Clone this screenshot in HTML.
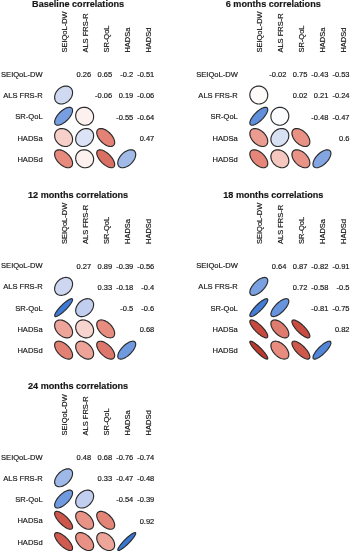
<!DOCTYPE html><html><head><meta charset="utf-8"><title>Correlations</title><style>html,body{margin:0;padding:0;background:#fff}svg{display:block}text{font-family:"Liberation Sans",Arial,sans-serif;fill:#161616;font-kerning:none;stroke:#161616;stroke-width:0.17px}</style></head><body>
<svg width="350" height="551" viewBox="0 0 350 551">
<rect width="350" height="551" fill="#fff"/>
<g transform="translate(0.00,0.00)">
<text x="78.1" y="7.10" font-size="9.1" font-weight="bold" stroke="none" text-anchor="middle">Baseline correlations</text>
<text x="42.6" y="76.83" font-size="7.55" text-anchor="end">SEIQoL-DW</text>
<text transform="translate(66.50,52.6) rotate(-90)" font-size="7.5">SEIQoL-DW</text>
<text x="42.6" y="98.08" font-size="7.55" text-anchor="end">ALS FRS-R</text>
<text transform="translate(87.55,52.6) rotate(-90)" font-size="7.5">ALS FRS-R</text>
<text x="42.6" y="119.33" font-size="7.55" text-anchor="end">SR-QoL</text>
<text transform="translate(108.60,52.6) rotate(-90)" font-size="7.5">SR-QoL</text>
<text x="42.6" y="140.58" font-size="7.55" text-anchor="end">HADSa</text>
<text transform="translate(129.65,52.6) rotate(-90)" font-size="7.5">HADSa</text>
<text x="42.6" y="161.83" font-size="7.55" text-anchor="end">HADSd</text>
<text transform="translate(150.70,52.6) rotate(-90)" font-size="7.5">HADSd</text>
<text x="91.15" y="77.16" font-size="7.5" text-anchor="end">0.26</text>
<polygon points="70.72,87.88 69.95,87.23 69.06,86.71 68.09,86.33 67.04,86.11 65.93,86.03 64.78,86.11 63.61,86.34 62.43,86.71 61.28,87.23 60.17,87.89 59.12,88.66 58.14,89.54 57.26,90.52 56.49,91.57 55.83,92.68 55.31,93.83 54.94,95.01 54.71,96.18 54.63,97.33 54.71,98.44 54.93,99.49 55.31,100.46 55.83,101.35 56.48,102.12 57.25,102.77 58.14,103.29 59.11,103.67 60.16,103.89 61.27,103.97 62.42,103.89 63.59,103.66 64.77,103.29 65.92,102.77 67.03,102.11 68.08,101.34 69.06,100.46 69.94,99.48 70.71,98.43 71.37,97.32 71.89,96.17 72.26,94.99 72.49,93.82 72.57,92.67 72.49,91.56 72.27,90.51 71.89,89.54 71.37,88.65" fill="#cfd9f2" stroke="#2a2a2a" stroke-width="1.15" stroke-linejoin="round"/>
<text x="112.20" y="77.16" font-size="7.5" text-anchor="end">0.65</text>
<polygon points="71.75,108.10 71.19,107.68 70.50,107.41 69.69,107.29 68.78,107.32 67.78,107.50 66.71,107.84 65.58,108.31 64.42,108.93 63.25,109.67 62.08,110.52 60.94,111.47 59.85,112.50 58.82,113.59 57.87,114.73 57.02,115.90 56.28,117.07 55.66,118.23 55.19,119.36 54.85,120.43 54.67,121.43 54.64,122.34 54.76,123.15 55.03,123.84 55.45,124.40 56.01,124.82 56.70,125.09 57.51,125.21 58.42,125.18 59.42,125.00 60.49,124.66 61.62,124.19 62.78,123.57 63.95,122.83 65.12,121.98 66.26,121.03 67.35,120.00 68.38,118.91 69.33,117.77 70.18,116.60 70.92,115.43 71.54,114.27 72.01,113.14 72.35,112.07 72.53,111.07 72.56,110.16 72.44,109.35 72.17,108.66" fill="#779ee0" stroke="#2a2a2a" stroke-width="1.15" stroke-linejoin="round"/>
<text x="133.25" y="77.16" font-size="7.5" text-anchor="end">-0.2</text>
<polygon points="69.27,131.83 68.32,130.97 67.28,130.22 66.18,129.60 65.04,129.11 63.87,128.77 62.70,128.58 61.54,128.53 60.42,128.65 59.35,128.91 58.36,129.32 57.45,129.87 56.65,130.55 55.97,131.35 55.42,132.26 55.01,133.25 54.75,134.32 54.63,135.44 54.68,136.60 54.87,137.77 55.21,138.94 55.70,140.08 56.32,141.18 57.07,142.22 57.93,143.17 58.88,144.03 59.92,144.78 61.02,145.40 62.16,145.89 63.33,146.23 64.50,146.42 65.66,146.47 66.78,146.35 67.85,146.09 68.84,145.68 69.75,145.13 70.55,144.45 71.23,143.65 71.78,142.74 72.19,141.75 72.45,140.68 72.57,139.56 72.52,138.40 72.33,137.23 71.99,136.06 71.50,134.92 70.88,133.82 70.13,132.78" fill="#f6d0c9" stroke="#2a2a2a" stroke-width="1.15" stroke-linejoin="round"/>
<text x="154.30" y="77.16" font-size="7.5" text-anchor="end">-0.51</text>
<polygon points="68.04,154.31 66.98,153.33 65.87,152.44 64.72,151.67 63.55,151.01 62.38,150.48 61.23,150.10 60.12,149.86 59.07,149.78 58.10,149.85 57.22,150.07 56.45,150.44 55.81,150.96 55.29,151.60 54.92,152.37 54.70,153.25 54.63,154.22 54.71,155.27 54.95,156.38 55.33,157.53 55.86,158.70 56.52,159.87 57.29,161.02 58.18,162.13 59.16,163.19 60.22,164.17 61.33,165.06 62.48,165.83 63.65,166.49 64.82,167.02 65.97,167.40 67.08,167.64 68.13,167.72 69.10,167.65 69.98,167.43 70.75,167.06 71.39,166.54 71.91,165.90 72.28,165.13 72.50,164.25 72.57,163.28 72.49,162.23 72.25,161.12 71.87,159.97 71.34,158.80 70.68,157.63 69.91,156.48 69.02,155.37" fill="#e78a7d" stroke="#2a2a2a" stroke-width="1.15" stroke-linejoin="round"/>
<text x="112.20" y="98.41" font-size="7.5" text-anchor="end">-0.06</text>
<polygon points="90.80,110.10 89.89,109.30 88.90,108.62 87.83,108.07 86.71,107.66 85.55,107.40 84.38,107.28 83.21,107.33 82.07,107.52 80.97,107.86 79.93,108.35 78.98,108.97 78.12,109.72 77.37,110.58 76.75,111.53 76.26,112.57 75.92,113.67 75.73,114.81 75.68,115.98 75.80,117.15 76.06,118.31 76.47,119.43 77.02,120.50 77.70,121.49 78.50,122.40 79.41,123.20 80.40,123.88 81.47,124.43 82.59,124.84 83.75,125.10 84.92,125.22 86.09,125.17 87.23,124.98 88.33,124.64 89.37,124.15 90.32,123.53 91.18,122.78 91.93,121.92 92.55,120.97 93.04,119.93 93.38,118.83 93.57,117.69 93.62,116.52 93.50,115.35 93.24,114.19 92.83,113.07 92.28,112.00 91.60,111.01" fill="#fcf1ef" stroke="#2a2a2a" stroke-width="1.15" stroke-linejoin="round"/>
<text x="133.25" y="98.41" font-size="7.5" text-anchor="end">0.19</text>
<polygon points="91.57,130.58 90.76,129.89 89.86,129.34 88.86,128.92 87.79,128.65 86.66,128.54 85.51,128.57 84.33,128.76 83.17,129.10 82.02,129.58 80.93,130.20 79.89,130.94 78.94,131.79 78.09,132.74 77.35,133.78 76.73,134.87 76.25,136.02 75.91,137.18 75.72,138.36 75.69,139.51 75.80,140.64 76.07,141.71 76.49,142.71 77.04,143.61 77.73,144.42 78.54,145.11 79.44,145.66 80.44,146.08 81.51,146.35 82.64,146.46 83.79,146.43 84.97,146.24 86.13,145.90 87.28,145.42 88.37,144.80 89.41,144.06 90.36,143.21 91.21,142.26 91.95,141.22 92.57,140.13 93.05,138.98 93.39,137.82 93.58,136.64 93.61,135.49 93.50,134.36 93.23,133.29 92.81,132.29 92.26,131.39" fill="#dce3f6" stroke="#2a2a2a" stroke-width="1.15" stroke-linejoin="round"/>
<text x="154.30" y="98.41" font-size="7.5" text-anchor="end">-0.06</text>
<polygon points="90.80,152.60 89.89,151.80 88.90,151.12 87.83,150.57 86.71,150.16 85.55,149.90 84.38,149.78 83.21,149.83 82.07,150.02 80.97,150.36 79.93,150.85 78.98,151.47 78.12,152.22 77.37,153.08 76.75,154.03 76.26,155.07 75.92,156.17 75.73,157.31 75.68,158.48 75.80,159.65 76.06,160.81 76.47,161.93 77.02,163.00 77.70,163.99 78.50,164.90 79.41,165.70 80.40,166.38 81.47,166.93 82.59,167.34 83.75,167.60 84.92,167.72 86.09,167.67 87.23,167.48 88.33,167.14 89.37,166.65 90.32,166.03 91.18,165.28 91.93,164.42 92.55,163.47 93.04,162.43 93.38,161.33 93.57,160.19 93.62,159.02 93.50,157.85 93.24,156.69 92.83,155.57 92.28,154.50 91.60,153.51" fill="#fcf1ef" stroke="#2a2a2a" stroke-width="1.15" stroke-linejoin="round"/>
<text x="133.25" y="119.66" font-size="7.5" text-anchor="end">-0.55</text>
<polygon points="109.95,133.25 108.89,132.25 107.77,131.35 106.61,130.55 105.44,129.87 104.27,129.32 103.12,128.91 102.03,128.64 100.99,128.53 100.03,128.58 99.17,128.77 98.43,129.12 97.80,129.60 97.32,130.23 96.97,130.97 96.78,131.83 96.73,132.79 96.84,133.83 97.11,134.92 97.52,136.07 98.07,137.24 98.75,138.41 99.55,139.57 100.45,140.69 101.45,141.75 102.51,142.75 103.63,143.65 104.79,144.45 105.96,145.13 107.13,145.68 108.28,146.09 109.37,146.36 110.41,146.47 111.37,146.42 112.23,146.23 112.97,145.88 113.60,145.40 114.08,144.77 114.43,144.03 114.62,143.17 114.67,142.21 114.56,141.17 114.29,140.08 113.88,138.93 113.33,137.76 112.65,136.59 111.85,135.43 110.95,134.31" fill="#e38275" stroke="#2a2a2a" stroke-width="1.15" stroke-linejoin="round"/>
<text x="154.30" y="119.66" font-size="7.5" text-anchor="end">-0.64</text>
<polygon points="109.51,154.94 108.41,153.92 107.27,152.97 106.11,152.13 104.93,151.39 103.77,150.79 102.65,150.32 101.57,149.99 100.57,149.81 99.65,149.79 98.84,149.92 98.14,150.20 97.58,150.63 97.15,151.19 96.87,151.89 96.74,152.70 96.76,153.62 96.94,154.62 97.27,155.70 97.74,156.82 98.34,157.98 99.08,159.16 99.92,160.32 100.87,161.46 101.89,162.56 102.99,163.58 104.13,164.53 105.29,165.37 106.47,166.11 107.63,166.71 108.75,167.18 109.83,167.51 110.83,167.69 111.75,167.71 112.56,167.58 113.26,167.30 113.82,166.87 114.25,166.31 114.53,165.61 114.66,164.80 114.64,163.88 114.46,162.88 114.13,161.80 113.66,160.68 113.06,159.52 112.32,158.34 111.48,157.18 110.53,156.04" fill="#da6f63" stroke="#2a2a2a" stroke-width="1.15" stroke-linejoin="round"/>
<text x="154.30" y="140.91" font-size="7.5" text-anchor="end">0.47</text>
<polygon points="134.44,151.06 133.77,150.52 132.98,150.13 132.09,149.88 131.10,149.78 130.04,149.84 128.92,150.05 127.77,150.41 126.60,150.91 125.43,151.54 124.28,152.30 123.18,153.17 122.13,154.13 121.17,155.18 120.30,156.28 119.54,157.43 118.91,158.60 118.41,159.77 118.05,160.92 117.84,162.04 117.78,163.10 117.88,164.09 118.13,164.98 118.52,165.77 119.06,166.44 119.73,166.98 120.52,167.37 121.41,167.62 122.40,167.72 123.46,167.66 124.58,167.45 125.73,167.09 126.90,166.59 128.07,165.96 129.22,165.20 130.32,164.33 131.37,163.37 132.33,162.32 133.20,161.22 133.96,160.07 134.59,158.90 135.09,157.73 135.45,156.58 135.66,155.46 135.72,154.40 135.62,153.41 135.37,152.52 134.98,151.73" fill="#a1bae8" stroke="#2a2a2a" stroke-width="1.15" stroke-linejoin="round"/>
</g>
<g transform="translate(195.20,0.00)">
<text x="78.1" y="7.10" font-size="9.1" font-weight="bold" stroke="none" text-anchor="middle">6 months correlations</text>
<text x="42.6" y="76.83" font-size="7.55" text-anchor="end">SEIQoL-DW</text>
<text transform="translate(66.50,52.6) rotate(-90)" font-size="7.5">SEIQoL-DW</text>
<text x="42.6" y="98.08" font-size="7.55" text-anchor="end">ALS FRS-R</text>
<text transform="translate(87.55,52.6) rotate(-90)" font-size="7.5">ALS FRS-R</text>
<text x="42.6" y="119.33" font-size="7.55" text-anchor="end">SR-QoL</text>
<text transform="translate(108.60,52.6) rotate(-90)" font-size="7.5">SR-QoL</text>
<text x="42.6" y="140.58" font-size="7.55" text-anchor="end">HADSa</text>
<text transform="translate(129.65,52.6) rotate(-90)" font-size="7.5">HADSa</text>
<text x="42.6" y="161.83" font-size="7.55" text-anchor="end">HADSd</text>
<text transform="translate(150.70,52.6) rotate(-90)" font-size="7.5">HADSd</text>
<text x="91.15" y="77.16" font-size="7.5" text-anchor="end">-0.02</text>
<polygon points="69.88,88.72 68.99,87.94 68.01,87.28 66.95,86.75 65.83,86.36 64.68,86.12 63.51,86.03 62.34,86.10 61.19,86.31 60.08,86.68 59.04,87.19 58.07,87.83 57.19,88.59 56.43,89.47 55.79,90.44 55.28,91.48 54.91,92.59 54.70,93.74 54.63,94.91 54.72,96.08 54.96,97.23 55.35,98.35 55.88,99.41 56.54,100.39 57.32,101.28 58.21,102.06 59.19,102.72 60.25,103.25 61.37,103.64 62.52,103.88 63.69,103.97 64.86,103.90 66.01,103.69 67.12,103.32 68.16,102.81 69.13,102.17 70.01,101.41 70.77,100.53 71.41,99.56 71.92,98.52 72.29,97.41 72.50,96.26 72.57,95.09 72.48,93.92 72.24,92.77 71.85,91.65 71.32,90.59 70.66,89.61" fill="#fefafa" stroke="#2a2a2a" stroke-width="1.15" stroke-linejoin="round"/>
<text x="112.20" y="77.16" font-size="7.5" text-anchor="end">0.75</text>
<polygon points="71.99,107.86 71.50,107.52 70.88,107.32 70.14,107.28 69.28,107.40 68.33,107.66 67.29,108.07 66.19,108.63 65.05,109.31 63.88,110.11 62.71,111.02 61.55,112.01 60.43,113.08 59.36,114.20 58.37,115.36 57.46,116.53 56.66,117.70 55.98,118.84 55.42,119.94 55.01,120.98 54.75,121.93 54.63,122.79 54.67,123.53 54.87,124.15 55.21,124.64 55.70,124.98 56.32,125.18 57.06,125.22 57.92,125.10 58.87,124.84 59.91,124.43 61.01,123.87 62.15,123.19 63.32,122.39 64.49,121.48 65.65,120.49 66.77,119.42 67.84,118.30 68.83,117.14 69.74,115.97 70.54,114.80 71.22,113.66 71.78,112.56 72.19,111.52 72.45,110.57 72.57,109.71 72.53,108.97 72.33,108.35" fill="#6090db" stroke="#2a2a2a" stroke-width="1.15" stroke-linejoin="round"/>
<text x="133.25" y="77.16" font-size="7.5" text-anchor="end">-0.43</text>
<polygon points="68.39,132.71 67.36,131.76 66.26,130.91 65.12,130.17 63.95,129.56 62.78,129.08 61.62,128.75 60.50,128.57 59.43,128.54 58.43,128.66 57.51,128.93 56.71,129.36 56.02,129.92 55.46,130.61 55.03,131.41 54.76,132.33 54.64,133.33 54.67,134.40 54.85,135.52 55.18,136.68 55.66,137.85 56.27,139.02 57.01,140.16 57.86,141.26 58.81,142.29 59.84,143.24 60.94,144.09 62.08,144.83 63.25,145.44 64.42,145.92 65.58,146.25 66.70,146.43 67.77,146.46 68.77,146.34 69.69,146.07 70.49,145.64 71.18,145.08 71.74,144.39 72.17,143.59 72.44,142.67 72.56,141.67 72.53,140.60 72.35,139.48 72.02,138.32 71.54,137.15 70.93,135.98 70.19,134.84 69.34,133.74" fill="#eb9c90" stroke="#2a2a2a" stroke-width="1.15" stroke-linejoin="round"/>
<text x="154.30" y="77.16" font-size="7.5" text-anchor="end">-0.53</text>
<polygon points="67.95,154.40 66.89,153.41 65.77,152.52 64.62,151.73 63.44,151.06 62.27,150.52 61.13,150.13 60.02,149.88 58.98,149.78 58.02,149.84 57.15,150.05 56.39,150.40 55.75,150.90 55.25,151.54 54.90,152.30 54.69,153.17 54.63,154.13 54.73,155.17 54.98,156.28 55.37,157.42 55.91,158.59 56.58,159.77 57.37,160.92 58.26,162.04 59.25,163.10 60.31,164.09 61.43,164.98 62.58,165.77 63.76,166.44 64.93,166.98 66.07,167.37 67.18,167.62 68.22,167.72 69.18,167.66 70.05,167.45 70.81,167.10 71.45,166.60 71.95,165.96 72.30,165.20 72.51,164.33 72.57,163.37 72.47,162.33 72.22,161.22 71.83,160.08 71.29,158.91 70.62,157.73 69.83,156.58 68.94,155.46" fill="#e58679" stroke="#2a2a2a" stroke-width="1.15" stroke-linejoin="round"/>
<text x="112.20" y="98.41" font-size="7.5" text-anchor="end">0.02</text>
<polygon points="91.06,109.84 90.18,109.08 89.21,108.44 88.17,107.93 87.06,107.56 85.91,107.35 84.74,107.28 83.57,107.37 82.42,107.61 81.30,108.00 80.24,108.53 79.26,109.19 78.37,109.97 77.59,110.86 76.93,111.84 76.40,112.90 76.01,114.02 75.77,115.17 75.68,116.34 75.75,117.51 75.96,118.66 76.33,119.77 76.84,120.81 77.48,121.78 78.24,122.66 79.12,123.42 80.09,124.06 81.13,124.57 82.24,124.94 83.39,125.15 84.56,125.22 85.73,125.13 86.88,124.89 88.00,124.50 89.06,123.97 90.04,123.31 90.93,122.53 91.71,121.64 92.37,120.66 92.90,119.60 93.29,118.48 93.53,117.33 93.62,116.16 93.55,114.99 93.34,113.84 92.97,112.73 92.46,111.69 91.82,110.72" fill="#fbfcfe" stroke="#2a2a2a" stroke-width="1.15" stroke-linejoin="round"/>
<text x="133.25" y="98.41" font-size="7.5" text-anchor="end">0.21</text>
<polygon points="91.63,130.52 90.83,129.85 89.93,129.30 88.94,128.90 87.87,128.64 86.75,128.53 85.60,128.58 84.42,128.78 83.26,129.13 82.11,129.62 81.01,130.25 79.97,131.00 79.01,131.86 78.15,132.82 77.40,133.86 76.77,134.96 76.28,136.11 75.93,137.27 75.73,138.45 75.68,139.60 75.79,140.72 76.05,141.79 76.45,142.78 77.00,143.68 77.67,144.48 78.47,145.15 79.37,145.70 80.36,146.10 81.43,146.36 82.55,146.47 83.70,146.42 84.88,146.22 86.04,145.87 87.19,145.38 88.29,144.75 89.33,144.00 90.29,143.14 91.15,142.18 91.90,141.14 92.53,140.04 93.02,138.89 93.37,137.73 93.57,136.55 93.62,135.40 93.51,134.28 93.25,133.21 92.85,132.22 92.30,131.32" fill="#d8e0f4" stroke="#2a2a2a" stroke-width="1.15" stroke-linejoin="round"/>
<text x="154.30" y="98.41" font-size="7.5" text-anchor="end">-0.24</text>
<polygon points="90.18,153.22 89.21,152.35 88.16,151.58 87.06,150.94 85.91,150.43 84.74,150.06 83.57,149.85 82.41,149.78 81.30,149.87 80.24,150.11 79.26,150.50 78.37,151.03 77.59,151.69 76.93,152.47 76.40,153.36 76.01,154.34 75.77,155.40 75.68,156.51 75.75,157.67 75.96,158.84 76.33,160.01 76.84,161.16 77.48,162.26 78.25,163.31 79.12,164.28 80.09,165.15 81.14,165.92 82.24,166.56 83.39,167.07 84.56,167.44 85.73,167.65 86.89,167.72 88.00,167.63 89.06,167.39 90.04,167.00 90.93,166.47 91.71,165.81 92.37,165.03 92.90,164.14 93.29,163.16 93.53,162.10 93.62,160.99 93.55,159.83 93.34,158.66 92.97,157.49 92.46,156.34 91.82,155.24 91.05,154.19" fill="#f4c7bf" stroke="#2a2a2a" stroke-width="1.15" stroke-linejoin="round"/>
<text x="133.25" y="119.66" font-size="7.5" text-anchor="end">-0.48</text>
<polygon points="110.27,132.93 109.23,131.96 108.12,131.08 106.97,130.32 105.80,129.68 104.63,129.17 103.48,128.81 102.36,128.59 101.30,128.53 100.32,128.62 99.43,128.86 98.65,129.25 97.98,129.78 97.45,130.45 97.06,131.23 96.82,132.12 96.73,133.10 96.79,134.16 97.01,135.28 97.37,136.43 97.88,137.60 98.52,138.77 99.28,139.92 100.16,141.03 101.13,142.07 102.17,143.04 103.28,143.92 104.43,144.68 105.60,145.32 106.77,145.83 107.92,146.19 109.04,146.41 110.10,146.47 111.08,146.38 111.97,146.14 112.75,145.75 113.42,145.22 113.95,144.55 114.34,143.77 114.58,142.88 114.67,141.90 114.61,140.84 114.39,139.72 114.03,138.57 113.52,137.40 112.88,136.23 112.12,135.08 111.24,133.97" fill="#e99184" stroke="#2a2a2a" stroke-width="1.15" stroke-linejoin="round"/>
<text x="154.30" y="119.66" font-size="7.5" text-anchor="end">-0.47</text>
<polygon points="110.32,154.13 109.27,153.17 108.17,152.30 107.02,151.54 105.85,150.91 104.68,150.41 103.53,150.05 102.41,149.84 101.35,149.78 100.36,149.88 99.47,150.13 98.68,150.52 98.01,151.06 97.47,151.73 97.08,152.52 96.83,153.41 96.73,154.40 96.79,155.46 97.00,156.58 97.36,157.73 97.86,158.90 98.49,160.07 99.25,161.22 100.12,162.32 101.08,163.37 102.13,164.33 103.23,165.20 104.38,165.96 105.55,166.59 106.72,167.09 107.87,167.45 108.99,167.66 110.05,167.72 111.04,167.62 111.93,167.37 112.72,166.98 113.39,166.44 113.93,165.77 114.32,164.98 114.57,164.09 114.67,163.10 114.61,162.04 114.40,160.92 114.04,159.77 113.54,158.60 112.91,157.43 112.15,156.28 111.28,155.18" fill="#e99386" stroke="#2a2a2a" stroke-width="1.15" stroke-linejoin="round"/>
<text x="154.30" y="140.91" font-size="7.5" text-anchor="end">0.6</text>
<polygon points="134.77,150.73 134.18,150.27 133.46,149.96 132.63,149.80 131.69,149.80 130.67,149.94 129.59,150.24 128.45,150.68 127.29,151.26 126.11,151.97 124.95,152.80 123.82,153.73 122.74,154.74 121.73,155.82 120.80,156.95 119.97,158.11 119.26,159.29 118.68,160.45 118.24,161.59 117.94,162.67 117.80,163.69 117.80,164.63 117.96,165.46 118.27,166.18 118.73,166.77 119.32,167.23 120.04,167.54 120.87,167.70 121.81,167.70 122.83,167.56 123.91,167.26 125.05,166.82 126.21,166.24 127.39,165.53 128.55,164.70 129.68,163.77 130.76,162.76 131.77,161.68 132.70,160.55 133.53,159.39 134.24,158.21 134.82,157.05 135.26,155.91 135.56,154.83 135.70,153.81 135.70,152.87 135.54,152.04 135.23,151.32" fill="#83a6e2" stroke="#2a2a2a" stroke-width="1.15" stroke-linejoin="round"/>
</g>
<g transform="translate(0.00,191.40)">
<text x="78.1" y="6.70" font-size="9.1" font-weight="bold" stroke="none" text-anchor="middle">12 months correlations</text>
<text x="42.6" y="76.83" font-size="7.55" text-anchor="end">SEIQoL-DW</text>
<text transform="translate(66.50,52.6) rotate(-90)" font-size="7.5">SEIQoL-DW</text>
<text x="42.6" y="98.08" font-size="7.55" text-anchor="end">ALS FRS-R</text>
<text transform="translate(87.55,52.6) rotate(-90)" font-size="7.5">ALS FRS-R</text>
<text x="42.6" y="119.33" font-size="7.55" text-anchor="end">SR-QoL</text>
<text transform="translate(108.60,52.6) rotate(-90)" font-size="7.5">SR-QoL</text>
<text x="42.6" y="140.58" font-size="7.55" text-anchor="end">HADSa</text>
<text transform="translate(129.65,52.6) rotate(-90)" font-size="7.5">HADSa</text>
<text x="42.6" y="161.83" font-size="7.55" text-anchor="end">HADSd</text>
<text transform="translate(150.70,52.6) rotate(-90)" font-size="7.5">HADSd</text>
<text x="91.15" y="77.16" font-size="7.5" text-anchor="end">0.27</text>
<polygon points="70.75,87.85 69.98,87.21 69.10,86.69 68.13,86.32 67.08,86.10 65.97,86.03 64.82,86.11 63.65,86.35 62.48,86.73 61.33,87.26 60.22,87.92 59.16,88.69 58.18,89.58 57.29,90.56 56.52,91.62 55.86,92.73 55.33,93.88 54.95,95.05 54.71,96.22 54.63,97.37 54.70,98.48 54.92,99.53 55.29,100.50 55.81,101.38 56.45,102.15 57.22,102.79 58.10,103.31 59.07,103.68 60.12,103.90 61.23,103.97 62.38,103.89 63.55,103.65 64.72,103.27 65.87,102.74 66.98,102.08 68.04,101.31 69.02,100.42 69.91,99.44 70.68,98.38 71.34,97.27 71.87,96.12 72.25,94.95 72.49,93.78 72.57,92.63 72.50,91.52 72.28,90.47 71.91,89.50 71.39,88.62" fill="#ced7f2" stroke="#2a2a2a" stroke-width="1.15" stroke-linejoin="round"/>
<text x="112.20" y="77.16" font-size="7.5" text-anchor="end">0.89</text>
<polygon points="72.32,107.53 71.97,107.33 71.48,107.28 70.85,107.39 70.10,107.65 69.24,108.05 68.28,108.60 67.24,109.27 66.14,110.07 64.99,110.97 63.82,111.96 62.65,113.03 61.50,114.15 60.38,115.30 59.31,116.47 58.32,117.64 57.42,118.79 56.62,119.89 55.95,120.93 55.40,121.89 55.00,122.75 54.74,123.50 54.63,124.13 54.68,124.62 54.88,124.97 55.23,125.17 55.72,125.22 56.35,125.11 57.10,124.85 57.96,124.45 58.92,123.90 59.96,123.23 61.06,122.43 62.21,121.53 63.38,120.54 64.55,119.47 65.70,118.35 66.82,117.20 67.89,116.03 68.88,114.86 69.78,113.71 70.58,112.61 71.25,111.57 71.80,110.61 72.20,109.75 72.46,109.00 72.57,108.37 72.52,107.88" fill="#3f7ad5" stroke="#2a2a2a" stroke-width="1.15" stroke-linejoin="round"/>
<text x="133.25" y="77.16" font-size="7.5" text-anchor="end">-0.39</text>
<polygon points="68.55,132.55 67.54,131.61 66.45,130.78 65.32,130.06 64.15,129.47 62.98,129.02 61.82,128.71 60.68,128.55 59.60,128.55 58.59,128.70 57.66,128.99 56.83,129.44 56.12,130.02 55.54,130.73 55.09,131.56 54.80,132.49 54.65,133.50 54.65,134.58 54.81,135.72 55.12,136.88 55.57,138.05 56.16,139.22 56.88,140.35 57.71,141.44 58.65,142.45 59.66,143.39 60.75,144.22 61.88,144.94 63.05,145.53 64.22,145.98 65.38,146.29 66.52,146.45 67.60,146.45 68.61,146.30 69.54,146.01 70.37,145.56 71.08,144.98 71.66,144.27 72.11,143.44 72.40,142.51 72.55,141.50 72.55,140.42 72.39,139.28 72.08,138.12 71.63,136.95 71.04,135.78 70.32,134.65 69.49,133.56" fill="#eda59a" stroke="#2a2a2a" stroke-width="1.15" stroke-linejoin="round"/>
<text x="154.30" y="77.16" font-size="7.5" text-anchor="end">-0.56</text>
<polygon points="67.81,154.54 66.74,153.54 65.61,152.64 64.46,151.83 63.28,151.15 62.12,150.59 60.97,150.17 59.88,149.90 58.84,149.79 57.89,149.82 57.04,150.01 56.29,150.35 55.68,150.83 55.20,151.44 54.86,152.19 54.67,153.04 54.64,153.99 54.75,155.03 55.02,156.12 55.44,157.27 56.00,158.43 56.68,159.61 57.49,160.76 58.39,161.89 59.39,162.96 60.46,163.96 61.59,164.86 62.74,165.67 63.92,166.35 65.08,166.91 66.23,167.33 67.32,167.60 68.36,167.71 69.31,167.68 70.16,167.49 70.91,167.15 71.52,166.67 72.00,166.06 72.34,165.31 72.53,164.46 72.56,163.51 72.45,162.47 72.18,161.38 71.76,160.23 71.20,159.07 70.52,157.89 69.71,156.74 68.81,155.61" fill="#e28073" stroke="#2a2a2a" stroke-width="1.15" stroke-linejoin="round"/>
<text x="112.20" y="98.41" font-size="7.5" text-anchor="end">0.33</text>
<polygon points="91.96,108.94 91.22,108.32 90.37,107.84 89.42,107.51 88.39,107.32 87.29,107.29 86.15,107.41 84.98,107.68 83.81,108.10 82.65,108.65 81.53,109.34 80.46,110.15 79.46,111.06 78.55,112.06 77.74,113.13 77.05,114.25 76.50,115.41 76.08,116.58 75.81,117.75 75.69,118.89 75.72,119.99 75.91,121.02 76.24,121.97 76.72,122.82 77.34,123.56 78.08,124.18 78.93,124.66 79.88,124.99 80.91,125.18 82.01,125.21 83.15,125.09 84.32,124.82 85.49,124.40 86.65,123.85 87.77,123.16 88.84,122.35 89.84,121.44 90.75,120.44 91.56,119.37 92.25,118.25 92.80,117.09 93.22,115.92 93.49,114.75 93.61,113.61 93.58,112.51 93.39,111.48 93.06,110.53 92.58,109.68" fill="#c1ceef" stroke="#2a2a2a" stroke-width="1.15" stroke-linejoin="round"/>
<text x="133.25" y="98.41" font-size="7.5" text-anchor="end">-0.18</text>
<polygon points="90.39,131.76 89.45,130.91 88.41,130.17 87.32,129.56 86.18,129.08 85.01,128.75 83.84,128.57 82.68,128.54 81.55,128.66 80.48,128.94 79.48,129.36 78.57,129.92 77.76,130.61 77.07,131.42 76.51,132.33 76.09,133.33 75.81,134.40 75.69,135.53 75.72,136.69 75.90,137.86 76.23,139.03 76.71,140.17 77.32,141.26 78.06,142.30 78.91,143.24 79.85,144.09 80.89,144.83 81.98,145.44 83.12,145.92 84.29,146.25 85.46,146.43 86.62,146.46 87.75,146.34 88.82,146.06 89.82,145.64 90.73,145.08 91.54,144.39 92.23,143.58 92.79,142.67 93.21,141.67 93.49,140.60 93.61,139.47 93.58,138.31 93.40,137.14 93.07,135.97 92.59,134.83 91.98,133.74 91.24,132.70" fill="#f7d5ce" stroke="#2a2a2a" stroke-width="1.15" stroke-linejoin="round"/>
<text x="154.30" y="98.41" font-size="7.5" text-anchor="end">-0.4</text>
<polygon points="89.56,153.84 88.54,152.90 87.45,152.06 86.32,151.34 85.15,150.74 83.98,150.28 82.82,149.97 81.69,149.81 80.61,149.79 79.60,149.94 78.67,150.23 77.85,150.67 77.15,151.25 76.57,151.95 76.13,152.77 75.84,153.70 75.69,154.71 75.71,155.79 75.87,156.92 76.18,158.08 76.64,159.25 77.24,160.42 77.96,161.55 78.80,162.64 79.74,163.66 80.76,164.60 81.85,165.44 82.98,166.16 84.15,166.76 85.32,167.22 86.48,167.53 87.61,167.69 88.69,167.71 89.70,167.56 90.63,167.27 91.45,166.83 92.15,166.25 92.73,165.55 93.17,164.73 93.46,163.80 93.61,162.79 93.59,161.71 93.43,160.58 93.12,159.42 92.66,158.25 92.06,157.08 91.34,155.95 90.50,154.86" fill="#eda398" stroke="#2a2a2a" stroke-width="1.15" stroke-linejoin="round"/>
<text x="133.25" y="119.66" font-size="7.5" text-anchor="end">-0.5</text>
<polygon points="110.19,133.01 109.13,132.04 108.02,131.16 106.87,130.38 105.70,129.73 104.53,129.21 103.38,128.84 102.27,128.61 101.22,128.53 100.24,128.61 99.36,128.84 98.58,129.21 97.93,129.73 97.41,130.38 97.04,131.16 96.81,132.04 96.73,133.01 96.81,134.07 97.04,135.18 97.41,136.33 97.93,137.50 98.58,138.67 99.36,139.82 100.24,140.93 101.22,141.98 102.27,142.96 103.38,143.84 104.53,144.62 105.70,145.27 106.87,145.79 108.02,146.16 109.13,146.39 110.19,146.47 111.16,146.39 112.04,146.16 112.82,145.79 113.47,145.27 113.99,144.62 114.36,143.84 114.59,142.96 114.67,141.98 114.59,140.93 114.36,139.82 113.99,138.67 113.47,137.50 112.82,136.33 112.04,135.18 111.16,134.07" fill="#e88c7f" stroke="#2a2a2a" stroke-width="1.15" stroke-linejoin="round"/>
<text x="154.30" y="119.66" font-size="7.5" text-anchor="end">-0.6</text>
<polygon points="109.71,154.74 108.63,153.73 107.50,152.80 106.34,151.97 105.16,151.26 104.00,150.68 102.86,150.24 101.78,149.94 100.76,149.80 99.82,149.80 98.99,149.96 98.27,150.27 97.68,150.73 97.22,151.32 96.91,152.04 96.75,152.87 96.75,153.81 96.89,154.83 97.19,155.91 97.63,157.05 98.21,158.21 98.92,159.39 99.75,160.55 100.68,161.68 101.69,162.76 102.77,163.77 103.90,164.70 105.06,165.53 106.24,166.24 107.40,166.82 108.54,167.26 109.62,167.56 110.64,167.70 111.58,167.70 112.41,167.54 113.13,167.23 113.72,166.77 114.18,166.18 114.49,165.46 114.65,164.63 114.65,163.69 114.51,162.67 114.21,161.59 113.77,160.45 113.19,159.29 112.48,158.11 111.65,156.95 110.72,155.82" fill="#de776b" stroke="#2a2a2a" stroke-width="1.15" stroke-linejoin="round"/>
<text x="154.30" y="140.91" font-size="7.5" text-anchor="end">0.68</text>
<polygon points="134.97,150.53 134.43,150.13 133.76,149.88 132.97,149.78 132.08,149.84 131.09,150.04 130.03,150.40 128.91,150.90 127.75,151.53 126.58,152.29 125.41,153.16 124.27,154.12 123.16,155.16 122.12,156.27 121.16,157.41 120.29,158.58 119.53,159.75 118.90,160.91 118.40,162.03 118.04,163.09 117.84,164.08 117.78,164.97 117.88,165.76 118.13,166.43 118.53,166.97 119.07,167.37 119.74,167.62 120.53,167.72 121.42,167.66 122.41,167.46 123.47,167.10 124.59,166.60 125.75,165.97 126.92,165.21 128.09,164.34 129.23,163.38 130.34,162.34 131.38,161.23 132.34,160.09 133.21,158.92 133.97,157.75 134.60,156.59 135.10,155.47 135.46,154.41 135.66,153.42 135.72,152.53 135.62,151.74 135.37,151.07" fill="#709adf" stroke="#2a2a2a" stroke-width="1.15" stroke-linejoin="round"/>
</g>
<g transform="translate(195.20,191.40)">
<text x="78.1" y="6.70" font-size="9.1" font-weight="bold" stroke="none" text-anchor="middle">18 months correlations</text>
<text x="42.6" y="76.83" font-size="7.55" text-anchor="end">SEIQoL-DW</text>
<text transform="translate(66.50,52.6) rotate(-90)" font-size="7.5">SEIQoL-DW</text>
<text x="42.6" y="98.08" font-size="7.55" text-anchor="end">ALS FRS-R</text>
<text transform="translate(87.55,52.6) rotate(-90)" font-size="7.5">ALS FRS-R</text>
<text x="42.6" y="119.33" font-size="7.55" text-anchor="end">SR-QoL</text>
<text transform="translate(108.60,52.6) rotate(-90)" font-size="7.5">SR-QoL</text>
<text x="42.6" y="140.58" font-size="7.55" text-anchor="end">HADSa</text>
<text transform="translate(129.65,52.6) rotate(-90)" font-size="7.5">HADSa</text>
<text x="42.6" y="161.83" font-size="7.55" text-anchor="end">HADSd</text>
<text transform="translate(150.70,52.6) rotate(-90)" font-size="7.5">HADSd</text>
<text x="91.15" y="77.16" font-size="7.5" text-anchor="end">0.64</text>
<polygon points="71.72,86.88 71.16,86.45 70.46,86.17 69.65,86.04 68.73,86.06 67.73,86.24 66.65,86.57 65.53,87.04 64.37,87.64 63.19,88.38 62.03,89.22 60.89,90.17 59.79,91.19 58.77,92.29 57.82,93.43 56.98,94.59 56.24,95.77 55.64,96.93 55.17,98.05 54.84,99.13 54.66,100.13 54.64,101.05 54.77,101.86 55.05,102.56 55.48,103.12 56.04,103.55 56.74,103.83 57.55,103.96 58.47,103.94 59.47,103.76 60.55,103.43 61.67,102.96 62.83,102.36 64.01,101.62 65.17,100.78 66.31,99.83 67.41,98.81 68.43,97.71 69.38,96.57 70.22,95.41 70.96,94.23 71.56,93.07 72.03,91.95 72.36,90.87 72.54,89.87 72.56,88.95 72.43,88.14 72.15,87.44" fill="#79a0e0" stroke="#2a2a2a" stroke-width="1.15" stroke-linejoin="round"/>
<text x="112.20" y="77.16" font-size="7.5" text-anchor="end">0.87</text>
<polygon points="72.27,107.58 71.90,107.35 71.39,107.28 70.74,107.36 69.97,107.60 69.09,107.98 68.12,108.50 67.07,109.16 65.96,109.93 64.81,110.82 63.64,111.80 62.46,112.85 61.31,113.96 60.20,115.11 59.15,116.29 58.17,117.46 57.28,118.61 56.51,119.72 55.85,120.77 55.33,121.74 54.95,122.62 54.71,123.39 54.63,124.04 54.70,124.55 54.93,124.92 55.30,125.15 55.81,125.22 56.46,125.14 57.23,124.90 58.11,124.52 59.08,124.00 60.13,123.34 61.24,122.57 62.39,121.68 63.56,120.70 64.74,119.65 65.89,118.54 67.00,117.39 68.05,116.21 69.03,115.04 69.92,113.89 70.69,112.78 71.35,111.73 71.87,110.76 72.25,109.88 72.49,109.11 72.57,108.46 72.50,107.95" fill="#447dd6" stroke="#2a2a2a" stroke-width="1.15" stroke-linejoin="round"/>
<text x="133.25" y="77.16" font-size="7.5" text-anchor="end">-0.82</text>
<polygon points="66.29,134.81 65.15,133.72 63.98,132.69 62.81,131.74 61.65,130.89 60.53,130.16 59.45,129.55 58.45,129.07 57.54,128.74 56.72,128.56 56.03,128.54 55.47,128.67 55.04,128.94 54.77,129.37 54.64,129.93 54.66,130.62 54.84,131.44 55.17,132.35 55.65,133.35 56.26,134.43 56.99,135.55 57.84,136.71 58.79,137.88 59.82,139.05 60.91,140.19 62.05,141.28 63.22,142.31 64.39,143.26 65.55,144.11 66.67,144.84 67.75,145.45 68.75,145.93 69.66,146.26 70.48,146.44 71.17,146.46 71.73,146.33 72.16,146.06 72.43,145.63 72.56,145.07 72.54,144.38 72.36,143.56 72.03,142.65 71.55,141.65 70.94,140.57 70.21,139.45 69.36,138.29 68.41,137.12 67.38,135.95" fill="#c84a3e" stroke="#2a2a2a" stroke-width="1.15" stroke-linejoin="round"/>
<text x="154.30" y="77.16" font-size="7.5" text-anchor="end">-0.91</text>
<polygon points="65.50,156.85 64.34,155.72 63.17,154.64 62.00,153.64 60.86,152.72 59.77,151.90 58.75,151.21 57.80,150.64 56.96,150.21 56.23,149.92 55.63,149.79 55.16,149.81 54.83,149.98 54.66,150.31 54.64,150.78 54.77,151.38 55.06,152.11 55.49,152.95 56.06,153.90 56.75,154.92 57.57,156.01 58.49,157.15 59.49,158.32 60.57,159.49 61.70,160.65 62.86,161.78 64.03,162.86 65.20,163.86 66.34,164.78 67.43,165.60 68.45,166.29 69.40,166.86 70.24,167.29 70.97,167.58 71.57,167.71 72.04,167.69 72.37,167.52 72.54,167.19 72.56,166.72 72.43,166.12 72.14,165.39 71.71,164.55 71.14,163.60 70.45,162.58 69.63,161.49 68.71,160.35 67.71,159.18 66.63,158.01" fill="#bd382d" stroke="#2a2a2a" stroke-width="1.15" stroke-linejoin="round"/>
<text x="112.20" y="98.41" font-size="7.5" text-anchor="end">0.72</text>
<polygon points="92.97,107.93 92.46,107.56 91.82,107.35 91.05,107.28 90.18,107.37 89.21,107.61 88.16,107.99 87.05,108.52 85.90,109.18 84.73,109.97 83.56,110.86 82.41,111.84 81.29,112.89 80.24,114.01 79.26,115.16 78.37,116.33 77.58,117.50 76.92,118.65 76.39,119.76 76.01,120.81 75.77,121.78 75.68,122.65 75.75,123.42 75.96,124.06 76.33,124.57 76.84,124.94 77.48,125.15 78.25,125.22 79.12,125.13 80.09,124.89 81.14,124.51 82.25,123.98 83.40,123.32 84.57,122.53 85.74,121.64 86.89,120.66 88.01,119.61 89.06,118.49 90.04,117.34 90.93,116.17 91.72,115.00 92.38,113.85 92.91,112.74 93.29,111.69 93.53,110.72 93.62,109.85 93.55,109.08 93.34,108.44" fill="#6794dd" stroke="#2a2a2a" stroke-width="1.15" stroke-linejoin="round"/>
<text x="133.25" y="98.41" font-size="7.5" text-anchor="end">-0.58</text>
<polygon points="88.76,133.39 87.68,132.38 86.56,131.47 85.40,130.65 84.22,129.95 83.06,129.39 81.92,128.96 80.83,128.67 79.80,128.54 78.86,128.56 78.01,128.74 77.28,129.06 76.68,129.53 76.21,130.13 75.89,130.86 75.71,131.71 75.69,132.65 75.82,133.68 76.11,134.77 76.54,135.91 77.10,137.07 77.80,138.25 78.62,139.41 79.53,140.53 80.54,141.61 81.62,142.62 82.74,143.53 83.90,144.35 85.08,145.05 86.24,145.61 87.38,146.04 88.47,146.33 89.50,146.46 90.44,146.44 91.29,146.26 92.02,145.94 92.62,145.47 93.09,144.87 93.41,144.14 93.59,143.29 93.61,142.35 93.48,141.32 93.19,140.23 92.76,139.09 92.20,137.93 91.50,136.75 90.68,135.59 89.77,134.47" fill="#e07b6f" stroke="#2a2a2a" stroke-width="1.15" stroke-linejoin="round"/>
<text x="154.30" y="98.41" font-size="7.5" text-anchor="end">-0.5</text>
<polygon points="89.14,154.26 88.08,153.29 86.97,152.41 85.82,151.63 84.65,150.98 83.48,150.46 82.33,150.09 81.22,149.86 80.17,149.78 79.19,149.86 78.31,150.09 77.53,150.46 76.88,150.98 76.36,151.63 75.99,152.41 75.76,153.29 75.68,154.26 75.76,155.32 75.99,156.43 76.36,157.58 76.88,158.75 77.53,159.92 78.31,161.07 79.19,162.18 80.17,163.23 81.22,164.21 82.33,165.09 83.48,165.87 84.65,166.52 85.82,167.04 86.97,167.41 88.08,167.64 89.14,167.72 90.11,167.64 90.99,167.41 91.77,167.04 92.42,166.52 92.94,165.87 93.31,165.09 93.54,164.21 93.62,163.23 93.54,162.18 93.31,161.07 92.94,159.92 92.42,158.75 91.77,157.58 90.99,156.43 90.11,155.32" fill="#e88c7f" stroke="#2a2a2a" stroke-width="1.15" stroke-linejoin="round"/>
<text x="133.25" y="119.66" font-size="7.5" text-anchor="end">-0.81</text>
<polygon points="108.46,134.74 107.33,133.65 106.16,132.62 104.99,131.68 103.83,130.84 102.70,130.11 101.62,129.51 100.61,129.05 99.69,128.73 98.87,128.56 98.17,128.54 97.60,128.68 97.17,128.97 96.88,129.40 96.74,129.97 96.76,130.67 96.93,131.49 97.25,132.41 97.71,133.42 98.31,134.50 99.04,135.63 99.88,136.79 100.82,137.96 101.85,139.13 102.94,140.26 104.07,141.35 105.24,142.38 106.41,143.32 107.57,144.16 108.70,144.89 109.78,145.49 110.79,145.95 111.71,146.27 112.53,146.44 113.23,146.46 113.80,146.32 114.23,146.03 114.52,145.60 114.66,145.03 114.64,144.33 114.47,143.51 114.15,142.59 113.69,141.58 113.09,140.50 112.36,139.37 111.52,138.21 110.58,137.04 109.55,135.87" fill="#c94c40" stroke="#2a2a2a" stroke-width="1.15" stroke-linejoin="round"/>
<text x="154.30" y="119.66" font-size="7.5" text-anchor="end">-0.75</text>
<polygon points="108.87,155.58 107.75,154.51 106.59,153.52 105.42,152.61 104.25,151.81 103.11,151.13 102.01,150.57 100.97,150.16 100.02,149.90 99.16,149.78 98.42,149.82 97.80,150.02 97.31,150.36 96.97,150.85 96.77,151.47 96.73,152.21 96.85,153.07 97.11,154.02 97.52,155.06 98.08,156.16 98.76,157.30 99.56,158.47 100.47,159.64 101.46,160.80 102.53,161.92 103.65,162.99 104.81,163.98 105.98,164.89 107.15,165.69 108.29,166.37 109.39,166.93 110.43,167.34 111.38,167.60 112.24,167.72 112.98,167.68 113.60,167.48 114.09,167.14 114.43,166.65 114.63,166.03 114.67,165.29 114.55,164.43 114.29,163.48 113.88,162.44 113.32,161.34 112.64,160.20 111.84,159.03 110.93,157.86 109.94,156.70" fill="#cf584c" stroke="#2a2a2a" stroke-width="1.15" stroke-linejoin="round"/>
<text x="154.30" y="140.91" font-size="7.5" text-anchor="end">0.82</text>
<polygon points="135.31,150.19 134.88,149.92 134.32,149.79 133.63,149.81 132.81,149.99 131.90,150.32 130.90,150.80 129.82,151.41 128.70,152.14 127.54,152.99 126.37,153.94 125.20,154.97 124.06,156.06 122.97,157.20 121.94,158.37 120.99,159.54 120.14,160.70 119.41,161.82 118.80,162.90 118.32,163.90 117.99,164.81 117.81,165.63 117.79,166.32 117.92,166.88 118.19,167.31 118.62,167.58 119.18,167.71 119.87,167.69 120.69,167.51 121.60,167.18 122.60,166.70 123.68,166.09 124.80,165.36 125.96,164.51 127.13,163.56 128.30,162.53 129.44,161.44 130.53,160.30 131.56,159.13 132.51,157.96 133.36,156.80 134.09,155.68 134.70,154.60 135.18,153.60 135.51,152.69 135.69,151.87 135.71,151.18 135.58,150.62" fill="#5085d8" stroke="#2a2a2a" stroke-width="1.15" stroke-linejoin="round"/>
</g>
<g transform="translate(0.00,382.80)">
<text x="78.1" y="6.30" font-size="9.1" font-weight="bold" stroke="none" text-anchor="middle">24 months correlations</text>
<text x="42.6" y="76.83" font-size="7.55" text-anchor="end">SEIQoL-DW</text>
<text transform="translate(66.50,52.6) rotate(-90)" font-size="7.5">SEIQoL-DW</text>
<text x="42.6" y="98.08" font-size="7.55" text-anchor="end">ALS FRS-R</text>
<text transform="translate(87.55,52.6) rotate(-90)" font-size="7.5">ALS FRS-R</text>
<text x="42.6" y="119.33" font-size="7.55" text-anchor="end">SR-QoL</text>
<text transform="translate(108.60,52.6) rotate(-90)" font-size="7.5">SR-QoL</text>
<text x="42.6" y="140.58" font-size="7.55" text-anchor="end">HADSa</text>
<text transform="translate(129.65,52.6) rotate(-90)" font-size="7.5">HADSa</text>
<text x="42.6" y="161.83" font-size="7.55" text-anchor="end">HADSd</text>
<text transform="translate(150.70,52.6) rotate(-90)" font-size="7.5">HADSd</text>
<text x="91.15" y="77.16" font-size="7.5" text-anchor="end">0.48</text>
<polygon points="71.32,87.28 70.65,86.75 69.87,86.36 68.98,86.12 68.00,86.03 66.94,86.09 65.82,86.31 64.67,86.67 63.50,87.18 62.33,87.82 61.18,88.58 60.07,89.46 59.03,90.43 58.06,91.47 57.18,92.58 56.42,93.73 55.78,94.90 55.27,96.07 54.91,97.22 54.69,98.34 54.63,99.40 54.72,100.38 54.96,101.27 55.35,102.05 55.88,102.72 56.55,103.25 57.33,103.64 58.22,103.88 59.20,103.97 60.26,103.91 61.38,103.69 62.53,103.33 63.70,102.82 64.87,102.18 66.02,101.42 67.13,100.54 68.17,99.57 69.14,98.53 70.02,97.42 70.78,96.27 71.42,95.10 71.93,93.93 72.29,92.78 72.51,91.66 72.57,90.60 72.48,89.62 72.24,88.73 71.85,87.95" fill="#9eb8e8" stroke="#2a2a2a" stroke-width="1.15" stroke-linejoin="round"/>
<text x="112.20" y="77.16" font-size="7.5" text-anchor="end">0.68</text>
<polygon points="71.82,108.03 71.28,107.63 70.61,107.38 69.82,107.28 68.93,107.34 67.94,107.54 66.88,107.90 65.76,108.40 64.60,109.03 63.43,109.79 62.26,110.66 61.12,111.62 60.01,112.66 58.97,113.77 58.01,114.91 57.14,116.08 56.38,117.25 55.75,118.41 55.25,119.53 54.89,120.59 54.69,121.58 54.63,122.47 54.73,123.26 54.98,123.93 55.38,124.47 55.92,124.87 56.59,125.12 57.38,125.22 58.27,125.16 59.26,124.96 60.32,124.60 61.44,124.10 62.60,123.47 63.77,122.71 64.94,121.84 66.08,120.88 67.19,119.84 68.23,118.73 69.19,117.59 70.06,116.42 70.82,115.25 71.45,114.09 71.95,112.97 72.31,111.91 72.51,110.92 72.57,110.03 72.47,109.24 72.22,108.57" fill="#709adf" stroke="#2a2a2a" stroke-width="1.15" stroke-linejoin="round"/>
<text x="133.25" y="77.16" font-size="7.5" text-anchor="end">-0.76</text>
<polygon points="66.71,134.39 65.58,133.32 64.42,132.32 63.25,131.41 62.08,130.60 60.94,129.91 59.85,129.35 58.82,128.93 57.87,128.66 57.02,128.54 56.28,128.57 55.66,128.75 55.19,129.09 54.85,129.56 54.67,130.18 54.64,130.92 54.76,131.77 55.03,132.72 55.45,133.75 56.01,134.84 56.70,135.98 57.51,137.15 58.42,138.32 59.42,139.48 60.49,140.61 61.62,141.68 62.78,142.68 63.95,143.59 65.12,144.40 66.26,145.09 67.35,145.65 68.38,146.07 69.33,146.34 70.18,146.46 70.92,146.43 71.54,146.25 72.01,145.91 72.35,145.44 72.53,144.82 72.56,144.08 72.44,143.23 72.17,142.28 71.75,141.25 71.19,140.16 70.50,139.02 69.69,137.85 68.78,136.68 67.78,135.52" fill="#ce564a" stroke="#2a2a2a" stroke-width="1.15" stroke-linejoin="round"/>
<text x="154.30" y="77.16" font-size="7.5" text-anchor="end">-0.74</text>
<polygon points="66.83,155.52 65.71,154.45 64.56,153.46 63.39,152.56 62.22,151.77 61.07,151.09 59.97,150.55 58.93,150.14 57.97,149.89 57.11,149.78 56.36,149.83 55.73,150.03 55.23,150.38 54.88,150.88 54.68,151.51 54.63,152.26 54.74,153.12 54.99,154.08 55.40,155.12 55.94,156.22 56.62,157.37 57.41,158.54 58.31,159.71 59.30,160.86 60.37,161.98 61.49,163.05 62.64,164.04 63.81,164.94 64.98,165.73 66.13,166.41 67.23,166.95 68.27,167.36 69.23,167.61 70.09,167.72 70.84,167.67 71.47,167.47 71.97,167.12 72.32,166.62 72.52,165.99 72.57,165.24 72.46,164.38 72.21,163.42 71.80,162.38 71.26,161.28 70.58,160.13 69.79,158.96 68.89,157.79 67.90,156.64" fill="#d05a4e" stroke="#2a2a2a" stroke-width="1.15" stroke-linejoin="round"/>
<text x="112.20" y="98.41" font-size="7.5" text-anchor="end">0.33</text>
<polygon points="91.96,108.94 91.22,108.32 90.37,107.84 89.42,107.51 88.39,107.32 87.29,107.29 86.15,107.41 84.98,107.68 83.81,108.10 82.65,108.65 81.53,109.34 80.46,110.15 79.46,111.06 78.55,112.06 77.74,113.13 77.05,114.25 76.50,115.41 76.08,116.58 75.81,117.75 75.69,118.89 75.72,119.99 75.91,121.02 76.24,121.97 76.72,122.82 77.34,123.56 78.08,124.18 78.93,124.66 79.88,124.99 80.91,125.18 82.01,125.21 83.15,125.09 84.32,124.82 85.49,124.40 86.65,123.85 87.77,123.16 88.84,122.35 89.84,121.44 90.75,120.44 91.56,119.37 92.25,118.25 92.80,117.09 93.22,115.92 93.49,114.75 93.61,113.61 93.58,112.51 93.39,111.48 93.06,110.53 92.58,109.68" fill="#c1ceef" stroke="#2a2a2a" stroke-width="1.15" stroke-linejoin="round"/>
<text x="133.25" y="98.41" font-size="7.5" text-anchor="end">-0.47</text>
<polygon points="89.27,132.88 88.22,131.92 87.12,131.05 85.97,130.29 84.80,129.66 83.63,129.16 82.48,128.80 81.36,128.59 80.30,128.53 79.31,128.63 78.42,128.88 77.63,129.27 76.96,129.81 76.42,130.48 76.03,131.27 75.78,132.16 75.68,133.15 75.74,134.21 75.95,135.33 76.31,136.48 76.81,137.65 77.44,138.82 78.20,139.97 79.07,141.07 80.03,142.12 81.08,143.08 82.18,143.95 83.33,144.71 84.50,145.34 85.67,145.84 86.82,146.20 87.94,146.41 89.00,146.47 89.99,146.37 90.88,146.12 91.67,145.73 92.34,145.19 92.88,144.52 93.27,143.73 93.52,142.84 93.62,141.85 93.56,140.79 93.35,139.67 92.99,138.52 92.49,137.35 91.86,136.18 91.10,135.03 90.23,133.93" fill="#e99386" stroke="#2a2a2a" stroke-width="1.15" stroke-linejoin="round"/>
<text x="154.30" y="98.41" font-size="7.5" text-anchor="end">-0.48</text>
<polygon points="89.22,154.18 88.18,153.21 87.07,152.33 85.92,151.57 84.75,150.93 83.58,150.42 82.43,150.06 81.31,149.84 80.25,149.78 79.27,149.87 78.38,150.11 77.60,150.50 76.93,151.03 76.40,151.70 76.01,152.48 75.77,153.37 75.68,154.35 75.74,155.41 75.96,156.53 76.32,157.68 76.83,158.85 77.47,160.02 78.23,161.17 79.11,162.28 80.08,163.32 81.12,164.29 82.23,165.17 83.38,165.93 84.55,166.57 85.72,167.08 86.87,167.44 87.99,167.66 89.05,167.72 90.03,167.63 90.92,167.39 91.70,167.00 92.37,166.47 92.90,165.80 93.29,165.02 93.53,164.13 93.62,163.15 93.56,162.09 93.34,160.97 92.98,159.82 92.47,158.65 91.83,157.48 91.07,156.33 90.19,155.22" fill="#e99184" stroke="#2a2a2a" stroke-width="1.15" stroke-linejoin="round"/>
<text x="133.25" y="119.66" font-size="7.5" text-anchor="end">-0.54</text>
<polygon points="110.00,133.20 108.94,132.21 107.82,131.31 106.66,130.51 105.49,129.84 104.32,129.30 103.18,128.89 102.07,128.64 101.03,128.53 100.07,128.58 99.21,128.78 98.46,129.13 97.83,129.63 97.33,130.26 96.98,131.01 96.78,131.87 96.73,132.83 96.84,133.87 97.09,134.98 97.50,136.12 98.04,137.29 98.71,138.46 99.51,139.62 100.41,140.74 101.40,141.80 102.46,142.79 103.58,143.69 104.74,144.49 105.91,145.16 107.08,145.70 108.22,146.11 109.33,146.36 110.37,146.47 111.33,146.42 112.19,146.22 112.94,145.87 113.57,145.37 114.07,144.74 114.42,143.99 114.62,143.13 114.67,142.17 114.56,141.13 114.31,140.02 113.90,138.88 113.36,137.71 112.69,136.54 111.89,135.38 110.99,134.26" fill="#e48477" stroke="#2a2a2a" stroke-width="1.15" stroke-linejoin="round"/>
<text x="154.30" y="119.66" font-size="7.5" text-anchor="end">-0.39</text>
<polygon points="110.65,153.80 109.64,152.86 108.55,152.03 107.42,151.31 106.25,150.72 105.08,150.27 103.92,149.96 102.78,149.80 101.70,149.80 100.69,149.95 99.76,150.24 98.93,150.69 98.22,151.27 97.64,151.98 97.19,152.81 96.90,153.74 96.75,154.75 96.75,155.83 96.91,156.97 97.22,158.13 97.67,159.30 98.26,160.47 98.98,161.60 99.81,162.69 100.75,163.70 101.76,164.64 102.85,165.47 103.98,166.19 105.15,166.78 106.32,167.23 107.48,167.54 108.62,167.70 109.70,167.70 110.71,167.55 111.64,167.26 112.47,166.81 113.18,166.23 113.76,165.52 114.21,164.69 114.50,163.76 114.65,162.75 114.65,161.67 114.49,160.53 114.18,159.37 113.73,158.20 113.14,157.03 112.42,155.90 111.59,154.81" fill="#eda59a" stroke="#2a2a2a" stroke-width="1.15" stroke-linejoin="round"/>
<text x="154.30" y="140.91" font-size="7.5" text-anchor="end">0.92</text>
<polygon points="135.54,149.96 135.23,149.80 134.77,149.80 134.18,149.94 133.46,150.24 132.63,150.69 131.70,151.27 130.68,151.98 129.59,152.80 128.46,153.73 127.29,154.74 126.12,155.82 124.96,156.96 123.82,158.12 122.74,159.29 121.73,160.46 120.80,161.59 119.98,162.68 119.27,163.70 118.69,164.63 118.24,165.46 117.94,166.18 117.80,166.77 117.80,167.23 117.96,167.54 118.27,167.70 118.73,167.70 119.32,167.56 120.04,167.26 120.87,166.81 121.80,166.23 122.82,165.52 123.91,164.70 125.04,163.77 126.21,162.76 127.38,161.68 128.54,160.54 129.68,159.38 130.76,158.21 131.77,157.04 132.70,155.91 133.52,154.82 134.23,153.80 134.81,152.87 135.26,152.04 135.56,151.32 135.70,150.73 135.70,150.27" fill="#3976d4" stroke="#2a2a2a" stroke-width="1.15" stroke-linejoin="round"/>
</g>
</svg></body></html>
